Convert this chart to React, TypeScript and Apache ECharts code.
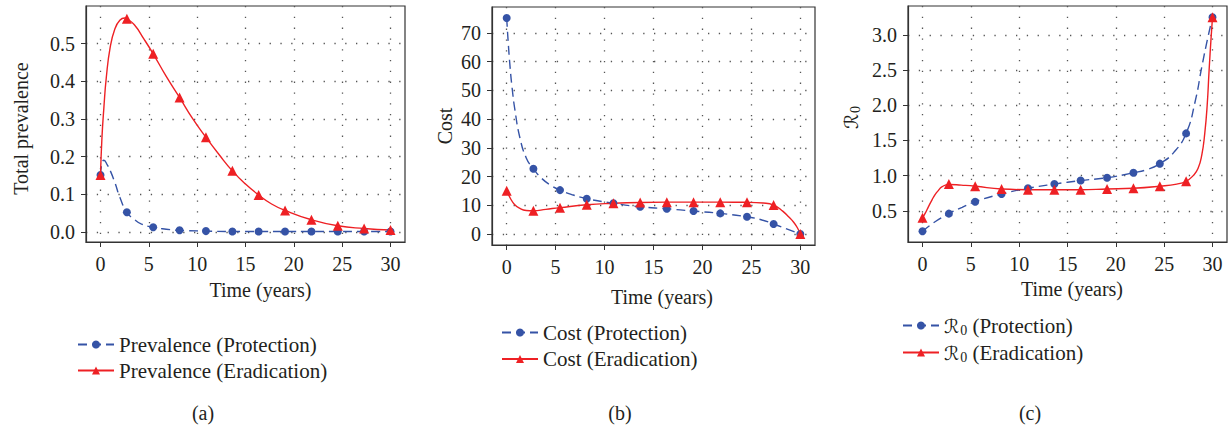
import React, { useEffect, useRef } from 'react';
import * as echarts from 'echarts';

// ---------- data ----------
const markerTimes = [0, 2.73, 5.45, 8.18, 10.91, 13.64, 16.36, 19.09, 21.82, 24.55, 27.27, 30];
const xTicks = [0, 5, 10, 15, 20, 25, 30];

// (a) total prevalence
const yTicksA = [0, 0.1, 0.2, 0.3, 0.4, 0.5];
const prevProtMarkers = [0.151, 0.052, 0.012, 0.004, 0.002, 0.001, 0.001, 0.001, 0.001, 0.001, 0.001, 0.001];
const prevEradMarkers = [0.151, 0.566, 0.473, 0.357, 0.251, 0.162, 0.098, 0.057, 0.032, 0.016, 0.009, 0.005];
const prevProtCurve = [
  [0, 0.151], [0.15, 0.182], [0.35, 0.19], [0.7, 0.178], [1.0, 0.163], [1.5, 0.13], [2.0, 0.092],
  [2.73, 0.052], [3.5, 0.033], [4.2, 0.021], [5.45, 0.012], [6.8, 0.007], [8.18, 0.004], [10.91, 0.002],
  [13.64, 0.001], [16.36, 0.001], [19.09, 0.001], [21.82, 0.001], [24.55, 0.001], [27.27, 0.001], [30, 0.001],
];
const prevEradCurve = [
  [0, 0.151], [0.15, 0.25], [0.35, 0.33], [0.6, 0.41], [1.0, 0.49], [1.5, 0.54], [2.0, 0.562], [2.5, 0.568],
  [2.73, 0.566], [3.5, 0.55], [4.5, 0.512], [5.45, 0.473], [6.8, 0.413], [8.18, 0.357], [9.5, 0.302],
  [10.91, 0.251], [12.3, 0.204], [13.64, 0.162], [15, 0.127], [16.36, 0.098], [17.7, 0.074], [19.09, 0.057],
  [21.82, 0.032], [24.55, 0.016], [27.27, 0.009], [30, 0.005],
];

// (b) cost
const yTicksB = [0, 10, 20, 30, 40, 50, 60, 70];
const costProtMarkers = [75.2, 22.7, 15.3, 12.3, 10.7, 9.5, 8.8, 8.0, 7.2, 6.0, 3.5, 0];
const costEradMarkers = [15.1, 8.1, 9.2, 10.2, 10.7, 11.0, 11.1, 11.1, 11.1, 11.05, 10.1, 0];
const costProtCurve = [
  [0, 75.2], [0.15, 67], [0.35, 58], [0.55, 51], [0.85, 43], [1.35, 33.5], [2.0, 26.5], [2.73, 22.7],
  [3.6, 19.3], [4.5, 17], [5.45, 15.3], [6.8, 13.6], [8.18, 12.3], [10.91, 10.7], [13.64, 9.5], [16.36, 8.8],
  [19.09, 8.0], [21.82, 7.2], [24.55, 6.0], [26, 5.0], [27.27, 3.5], [28.6, 1.8], [30, 0],
];
const costEradCurve = [
  [0, 15.1], [0.4, 12.3], [0.8, 10.3], [1.3, 9.0], [2.0, 8.2], [2.73, 8.1], [4.0, 8.6], [5.45, 9.2],
  [8.18, 10.2], [10.91, 10.7], [13.64, 11.0], [16.36, 11.1], [19.09, 11.1], [21.82, 11.1], [24.55, 11.05],
  [26.2, 10.8], [27.27, 10.1], [28.2, 8.0], [28.8, 6.0], [29.3, 4.2], [29.7, 2.2], [30, 0],
];

// (c) R0
const yTicksC = [0.5, 1.0, 1.5, 2.0, 2.5, 3.0];
const r0ProtMarkers = [0.21, 0.46, 0.63, 0.74, 0.82, 0.88, 0.93, 0.97, 1.04, 1.17, 1.6, 3.25];
const r0EradMarkers = [0.4, 0.88, 0.85, 0.81, 0.8, 0.8, 0.8, 0.81, 0.82, 0.85, 0.92, 3.25];
const r0ProtCurve = [
  [0, 0.21], [1.3, 0.345], [2.73, 0.46], [4.1, 0.55], [5.45, 0.63], [8.18, 0.74], [10.91, 0.82],
  [13.64, 0.88], [16.36, 0.93], [19.09, 0.97], [21.82, 1.04], [23.3, 1.09], [24.55, 1.17], [26, 1.33],
  [27.27, 1.6], [28.2, 2.05], [28.9, 2.55], [29.5, 2.95], [30, 3.25],
];
const r0EradCurve = [
  [0, 0.4], [0.3, 0.47], [0.62, 0.56], [1.0, 0.66], [1.3, 0.73], [1.65, 0.79], [2.0, 0.84], [2.73, 0.875],
  [4.0, 0.865], [5.45, 0.85], [8.18, 0.81], [10.91, 0.8], [13.64, 0.8], [16.36, 0.8], [19.09, 0.81],
  [21.82, 0.82], [24.55, 0.85], [26.3, 0.88], [27.27, 0.92], [28.0, 1.0], [28.5, 1.1], [28.9, 1.3],
  [29.2, 1.6], [29.45, 2.0], [29.65, 2.5], [29.85, 2.95], [30, 3.25],
];

const namesA = ['Prevalence (Protection)', 'Prevalence (Eradication)'];
const namesB = ['Cost (Protection)', 'Cost (Eradication)'];
const namesC = ['ℛ0 (Protection)', 'ℛ0 (Eradication)'];
const panelLabels = ['(a)', '(b)', '(c)'];

// ---------- styles ----------
const FONT = '"Liberation Serif", "Times New Roman", serif';
const TXT = '#231f20';
const BLUE = '#3553a6';
const RED = '#ee2024';
const FRAME = '#333333';
const FS = 20;
const LFS = 21;

const rich = {
  r: { fontFamily: '"DejaVu Serif", "DejaVu Sans", serif', fontSize: 19, color: TXT },
  s: { fontFamily: FONT, fontSize: 14, color: TXT, padding: [9, 0, 0, 1] },
  t: { fontFamily: FONT, fontSize: LFS, color: TXT },
};

const grids = [
  { left: 86, top: 6, width: 319, height: 236 },
  { left: 492, top: 7, width: 323, height: 238 },
  { left: 908, top: 6, width: 319, height: 236 },
];

const yRanges = [
  [-0.027, 0.6],
  [-3.8, 79],
  [0.057, 3.41],
];
const yTickSets = [yTicksA, yTicksB, yTicksC];
const yFormat = [(v: number) => v.toFixed(1), (v: number) => String(Math.round(v)), (v: number) => v.toFixed(1)];

function App() {
  const ref = useRef<HTMLDivElement>(null);
  useEffect(() => {
    if (!ref.current) return;
    const chart = echarts.init(ref.current, null, { renderer: 'svg' });

    const splitLine = { show: true, lineStyle: { color: '#555', width: 1.3, type: [1.3, 9.5] } };

    const xAxis = grids.map((g, i) => ({
      type: 'value',
      gridIndex: i,
      min: -1.5,
      max: 31.5,
      name: 'Time (years)',
      nameLocation: 'middle',
      nameGap: [38, 42, 34][i],
      nameTextStyle: { fontFamily: FONT, fontSize: FS, color: TXT, padding: [0, 0, 0, [30, 17, 9][i]] },
      axisLine: { show: true, onZero: false, lineStyle: { color: FRAME, width: 1.2 } },
      axisTick: { show: true, inside: false, length: 5, customValues: xTicks, lineStyle: { color: FRAME } },
      axisLabel: { customValues: xTicks, margin: 12, fontFamily: FONT, fontSize: FS, color: TXT },
      splitLine,
    }));

    const yAxis = grids.map((g, i) => ({
      type: 'value',
      gridIndex: i,
      min: yRanges[i][0],
      max: yRanges[i][1],
      name: ['Total prevalence', 'Cost', '{r|ℛ}{s|0}'][i],
      nameLocation: 'middle',
      nameGap: [55, 37, 46][i],
      nameTextStyle: {
        fontFamily: FONT, fontSize: FS, color: TXT, rich,
        padding: [[0, 9, 0, 0], [0, 0, 0, 0], [0, 0, 0, 13]][i],
      },
      axisLine: { show: true, onZero: false, lineStyle: { color: FRAME, width: 1.2 } },
      axisTick: { show: true, inside: false, length: 5, customValues: yTickSets[i], lineStyle: { color: FRAME } },
      axisLabel: { customValues: yTickSets[i], formatter: yFormat[i], margin: 11, fontFamily: FONT, fontSize: FS, color: TXT },
      splitLine,
    }));

    const panels = [
      { names: namesA, pc: prevProtCurve, ec: prevEradCurve, pm: prevProtMarkers, em: prevEradMarkers },
      { names: namesB, pc: costProtCurve, ec: costEradCurve, pm: costProtMarkers, em: costEradMarkers },
      { names: namesC, pc: r0ProtCurve, ec: r0EradCurve, pm: r0ProtMarkers, em: r0EradMarkers },
    ];

    const series: any[] = [];
    panels.forEach((p, i) => {
      series.push({
        type: 'line', name: p.names[0], xAxisIndex: i, yAxisIndex: i, data: p.pc,
        smooth: 0.5, showSymbol: false, symbol: 'circle',
        lineStyle: { color: BLUE, width: 1.4, type: [9, 5] }, itemStyle: { color: BLUE }, z: 2,
      });
      series.push({
        type: 'line', name: p.names[1], xAxisIndex: i, yAxisIndex: i, data: p.ec,
        smooth: 0.5, showSymbol: false, symbol: 'triangle',
        lineStyle: { color: RED, width: 1.4, type: 'solid' }, itemStyle: { color: RED }, z: 3,
      });
      series.push({
        type: 'scatter', name: 'pm' + i, xAxisIndex: i, yAxisIndex: i,
        data: markerTimes.map((t, k) => [t, p.pm[k]]),
        symbol: 'circle', symbolSize: 8, itemStyle: { color: BLUE, opacity: 1 }, z: 4,
      });
      series.push({
        type: 'scatter', name: 'em' + i, xAxisIndex: i, yAxisIndex: i,
        data: markerTimes.map((t, k) => [t, p.em[k]]),
        symbol: 'triangle', symbolSize: 10, itemStyle: { color: RED, opacity: 1 }, z: 5,
      });
    });

    const legendPos = [
      { left: 77, top: 334, gap: 5 },
      { left: 501, top: 322, gap: 5.6 },
      { left: 902, top: 315, gap: 5 },
    ];
    const legend = panels.map((p, i) => ({
      data: p.names,
      left: legendPos[i].left,
      top: legendPos[i].top,
      orient: 'vertical',
      padding: 0,
      itemGap: legendPos[i].gap,
      itemWidth: 36,
      itemHeight: 10,
      selectedMode: false,
      textStyle: { fontFamily: FONT, fontSize: LFS, color: TXT, rich },
      formatter: i === 2 ? (n: string) => '{r|ℛ}{s|0}{t|' + n.slice(2) + '}' : undefined,
    }));

    const titleX = [203, 620, 1030];
    const graphic = panelLabels.map((t, i) => ({
      type: 'text',
      x: titleX[i],
      y: 413,
      style: { text: t, font: FS + 'px ' + FONT, fill: TXT, align: 'center', verticalAlign: 'middle' },
    }));

    chart.setOption({
      animation: false,
      backgroundColor: '#ffffff',
      grid: grids.map((g) => ({ ...g, show: true, borderColor: FRAME, borderWidth: 1.2, backgroundColor: 'transparent' })),
      xAxis,
      yAxis,
      series,
      legend,
      graphic,
    });
    return () => chart.dispose();
  }, []);
  return <div ref={ref} style={{ position: 'fixed', left: 0, top: 0, width: 1229, height: 425 }} />;
}

export default App;
